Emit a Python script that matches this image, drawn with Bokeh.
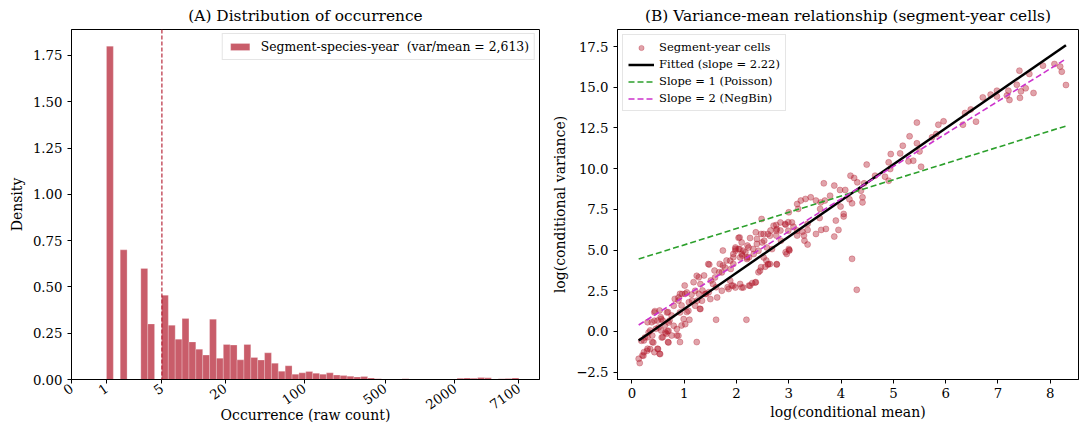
import numpy as np
from bokeh.plotting import figure
from bokeh.layouts import row
from bokeh.models import FixedTicker, CustomJSTickFormatter, Span
from bokeh.embed import file_html
from bokeh.resources import INLINE

FONT = "DejaVu Serif"

# ---------------- Panel A data ----------------
count_min = 1
count_max = 7100
n_bins = 60
density = [1.80, 0, 0.70, 0, 0, 0.60, 0.30, 0, 0.455, 0.293,
           0.218, 0.329, 0.203, 0.164, 0.132, 0.326, 0.115, 0.189, 0.186, 0.106,
           0.189, 0.119, 0.105, 0.144, 0.088, 0.045, 0.074, 0.029, 0.036, 0.043,
           0.034, 0.029, 0.036, 0.024, 0.021, 0.018, 0.014, 0.016, 0.008, 0.004,
           0.003, 0.002, 0.003, 0.004, 0.003, 0.002, 0.002, 0.001, 0.002, 0.002,
           0.003, 0.007, 0.008, 0.007, 0.011, 0.009, 0.003, 0.004, 0.005, 0.008]
threshold = 5
tick_counts = [0, 1, 5, 20, 100, 500, 2000, 7100]
density_ticks = [0.0, 0.25, 0.5, 0.75, 1.0, 1.25, 1.5, 1.75]
legend_a = "Segment-species-year  (var/mean = 2,613)"

# ---------------- Panel B data ----------------
log_mean = [
    4.44, 4.18, 4.25, 4.31, 4.38, 4.41, 4.41, 4.21, 4.16, 4.08, 3.98, 3.87, 3.67, 3.79, 3.69, 3.61, 3.52, 3.42, 3.32, 3.23,
    3.16, 3.18, 3.00, 3.60, 3.99, 4.05, 4.05, 3.95, 3.90, 3.87, 3.59, 3.71, 3.62, 3.52, 3.36, 3.36, 3.26, 3.29, 3.30, 3.36,
    3.16, 3.16, 3.09, 2.99, 2.94, 2.84, 2.76, 2.76, 3.00, 2.94, 3.01, 2.85, 2.76, 4.21, 4.30, 2.77, 2.60, 2.57, 2.47, 2.42,
    2.37, 2.30, 2.24, 2.19, 2.47, 2.48, 2.53, 2.60, 2.65, 2.37, 2.39, 2.32, 2.21, 2.17, 2.24, 2.11, 2.04, 2.06, 1.98, 1.94,
    1.94, 1.89, 1.81, 1.74, 1.74, 1.68, 1.67, 1.58, 1.48, 1.51, 1.47, 1.61, 1.55, 1.61, 1.83, 1.91, 2.07, 1.38, 1.28, 1.18,
    1.35, 1.42, 1.28, 1.25, 1.30, 1.24, 1.09, 1.14, 1.01, 1.02, 0.92, 0.89, 0.82, 0.95, 1.05, 1.10, 0.95, 0.92, 0.86, 0.76,
    0.69, 0.72, 0.59, 0.63, 0.68, 0.56, 0.49, 0.55, 0.53, 0.44, 0.38, 0.46, 0.39, 0.30, 0.35, 0.30, 0.23, 0.39, 0.49, 0.53,
    0.43, 0.30, 0.23, 0.20, 0.13, 0.15, 0.69, 0.76, 0.59, 0.66,
    7.41, 7.86, 8.08, 8.19, 8.22, 8.30, 7.60, 7.36, 7.20, 7.17, 7.22, 7.42, 7.44, 7.53, 7.68, 6.98, 6.98, 6.86, 6.71, 6.58,
    6.48, 6.37, 6.33, 5.96, 5.86, 5.82, 5.74, 5.45, 5.31, 5.18, 5.45, 5.50, 5.13, 4.95, 4.91, 5.29, 5.38, 5.53, 4.49, 4.65,
    4.84, 4.91, 4.94,
    2.71, 2.77, 2.84, 2.93, 3.06, 2.99, 2.64, 2.52, 2.49, 2.39, 2.26, 2.23, 2.13, 2.04, 1.98, 1.94, 2.07, 2.20, 2.33, 2.42,
    2.58, 2.68, 2.52, 2.61, 2.55, 2.64, 3.01, 2.96, 2.06, 2.10, 1.88, 1.94, 2.13, 2.26, 2.36, 2.45, 2.77,
    0.22, 0.29, 0.35, 0.50, 0.54, 0.41, 0.57, 0.64, 0.70, 0.51, 0.43, 0.56, 0.70, 0.80, 0.86, 0.89, 0.70, 0.67, 0.43, 0.80,
    0.92, 0.99, 1.02, 1.08, 1.21, 1.15, 0.96, 0.89, 1.05, 1.21, 1.31, 1.40, 1.50, 1.31, 1.34, 1.63, 1.72, 1.85, 1.24, 1.46,
    1.59, 1.72, 1.78, 1.88, 1.98, 2.10, 1.98, 2.10, 2.20, 0.32, 0.25, 0.18,
]
log_var = [
    9.10, 9.57, 9.43, 9.16, 8.65, 8.24, 7.93, 7.87, 8.12, 8.69, 8.69, 8.96, 9.10, 8.34, 8.04, 7.93, 8.04, 8.24, 8.14, 8.04,
    7.83, 7.53, 7.32, 7.53, 7.67, 7.22, 7.06, 6.24, 6.81, 5.83, 6.97, 6.30, 6.24, 5.99, 6.24, 6.61, 6.13, 5.89, 5.58, 5.34,
    5.89, 6.20, 6.44, 6.71, 6.56, 6.20, 6.54, 6.20, 5.07, 4.87, 4.97, 5.58, 5.89, 4.46, 2.56, 4.11, 4.11, 4.36, 3.95, 3.64,
    3.03, 2.97, 2.82, 0.72, 5.99, 6.91, 5.58, 5.99, 6.20, 6.09, 5.38, 5.07, 5.28, 4.87, 4.56, 4.66, 5.75, 5.07, 5.07, 4.56,
    4.15, 3.84, 4.36, 4.97, 4.05, 4.15, 3.64, 3.74, 4.11, 3.13, 2.41, 2.72, 2.92, 0.72, 2.72, 2.82, 2.92, 3.44, 3.33, 3.03,
    2.52, 2.31, 2.31, 1.90, 1.39, -0.65, 1.80, 2.27, 2.82, 2.31, 2.31, 1.90, 2.00, 1.60, 1.19, 0.72, 0.37, -0.65, -0.25, 0.98,
    1.19, 0.67, 0.67, 0.37, 0.02, 0.06, 0.67, 0.88, 1.29, 1.25, 0.57, 0.16, -0.25, 0.57, 0.06, -0.35, -0.55, -0.65, -1.06, -1.37,
    -1.27, -1.06, -1.27, -1.47, -1.68, -1.94, -0.65, -0.25, -0.35, -0.14,
    16.02, 16.33, 16.43, 16.27, 15.96, 15.14, 15.82, 15.16, 14.79, 14.49, 14.22, 14.35, 14.75, 14.94, 14.65, 14.79, 14.43, 14.55, 14.38, 12.89,
    13.64, 13.42, 12.70, 12.91, 12.70, 12.13, 11.93, 12.83, 11.99, 11.41, 11.56, 11.06, 10.94, 10.90, 10.39, 10.45, 10.49, 10.12, 10.25, 9.57,
    9.51, 9.26, 9.98,
    6.50, 6.29, 6.70, 6.60, 6.70, 6.19, 5.88, 5.99, 5.47, 5.68, 5.74, 5.16, 4.96, 5.06, 5.16, 4.76, 4.55, 4.55, 4.76, 4.96,
    5.16, 5.06, 4.55, 4.14, 3.98, 4.14, 5.00, 4.76, 5.78, 5.47, 4.35, 2.81, 2.70, 2.81, 3.01, 3.73, 4.14,
    -1.49, -1.19, -1.08, -1.08, -1.39, -0.68, -0.37, -0.06, 0.04, 0.25, 0.66, 0.76, 0.55, 0.35, 0.15, -0.26, -0.68, 1.17, 1.17, 1.58,
    1.17, 0.76, 0.45, 1.27, 1.58, 1.89, 2.30, 2.09, 2.40, 2.50, 2.91, 2.30, 1.99, 1.38, 1.89, 2.09, 2.50, 2.61, 3.42, 4.14,
    3.32, 3.63, 3.93, 3.12, 2.70, 2.70, 4.96, 4.76, 4.45, -0.06, -0.37, -0.57,
]
fit_slope, fit_intercept = 2.22, -0.84
pois_slope, pois_intercept = 1.0, 4.32
nb_slope, nb_intercept = 2.0, 0.14
legend_b = ["Segment-year cells", "Fitted (slope = 2.22)", "Slope = 1 (Poisson)", "Slope = 2 (NegBin)"]
var_ticks = [-2.5, 0.0, 2.5, 5.0, 7.5, 10.0, 12.5, 15.0, 17.5]
mean_ticks = [0, 1, 2, 3, 4, 5, 6, 7, 8]

RED = "#b2182b"


def style(p):
    p.title.text_font = FONT
    p.title.text_font_size = "15.4px"
    p.title.text_font_style = "normal"
    p.title.text_color = "black"
    p.title.align = "center"
    p.title.standoff = 9
    p.outline_line_color = "black"
    p.outline_line_width = 1
    p.xgrid.visible = False
    p.ygrid.visible = False
    p.background_fill_color = "white"
    for ax in (p.xaxis, p.yaxis):
        ax.axis_line_color = "black"
        ax.major_tick_line_color = "black"
        ax.major_tick_out = 4
        ax.major_tick_in = 0
        ax.minor_tick_line_color = None
        ax.major_label_text_font = FONT
        ax.major_label_text_font_size = "13.3px"
        ax.major_label_text_color = "black"
        ax.axis_label_text_font = FONT
        ax.axis_label_text_font_size = "14px"
        ax.axis_label_text_font_style = "normal"
        ax.axis_label_text_color = "black"


# ---------------- Panel A ----------------
edges = np.linspace(np.log1p(count_min), np.log1p(count_max), n_bins + 1)
dens = np.array(density)
mask = dens > 0
span_lo, span_hi = edges[0], edges[-1]
xa_hi = span_hi + 0.05 * (span_hi - span_lo)

p1 = figure(frame_width=468, frame_height=350, x_range=(0, xa_hi), y_range=(0, dens.max() * 1.05),
            output_backend="svg", toolbar_location=None,
            min_border_left=71, min_border_right=6, min_border_top=29, min_border_bottom=58,
            title="(A) Distribution of occurrence")
style(p1)
p1.quad(left=edges[:-1][mask], right=edges[1:][mask], bottom=0, top=dens[mask],
        fill_color=RED, fill_alpha=0.7, line_color="white", line_width=0.5, line_alpha=0.5,
        legend_label=legend_a)
p1.add_layout(Span(location=float(np.log1p(threshold)), dimension="height", line_color=RED,
                   line_alpha=0.85, line_width=1.3, line_dash="4 2"))
p1.xaxis.ticker = FixedTicker(ticks=[float(np.log1p(t)) for t in tick_counts])
p1.xaxis.formatter = CustomJSTickFormatter(code="return String(Math.round(Math.expm1(tick)));")
p1.xaxis.major_label_orientation = 0.61
p1.xaxis.major_label_standoff = 3
p1.xaxis.axis_label_standoff = -10
p1.xaxis.axis_label = "Occurrence (raw count)"
p1.yaxis.ticker = FixedTicker(ticks=density_ticks)
p1.yaxis.formatter = CustomJSTickFormatter(code="return tick.toFixed(2);")
p1.yaxis.axis_label = "Density"
lg = p1.legend[0]
lg.location = "top_right"
lg.label_text_font = FONT
lg.label_text_font_size = "12.4px"
lg.label_text_color = "black"
lg.glyph_width = 24
lg.glyph_height = 9
lg.label_height = 14
lg.label_standoff = 9
lg.padding = 5
lg.margin = 4
lg.border_line_color = "#cccccc"
lg.background_fill_alpha = 0.85

# ---------------- Panel B ----------------
xs = np.array(log_mean)
ys = np.array(log_var)
xline = np.array([xs.min(), xs.max()])

p2 = figure(frame_width=461, frame_height=350, x_range=(-0.275, 8.54), y_range=(-2.95, 18.55),
            output_backend="svg", toolbar_location=None,
            min_border_left=72, min_border_right=2, min_border_top=29, min_border_bottom=58,
            title="(B) Variance-mean relationship (segment-year cells)")
style(p2)
p2.scatter(xs, ys, size=6, fill_color=RED, fill_alpha=0.4, line_color=RED, line_alpha=0.3,
           legend_label=legend_b[0])
p2.line(xline, fit_intercept + fit_slope * xline, line_color="black", line_width=2.5, legend_label=legend_b[1])
p2.line(xline, pois_intercept + pois_slope * xline, line_color="#2ca02c", line_width=1.6,
        line_dash="6 3", legend_label=legend_b[2])
p2.line(xline, nb_intercept + nb_slope * xline, line_color="#cc33cc", line_width=1.6,
        line_dash="6 3", legend_label=legend_b[3])
p2.xaxis.ticker = FixedTicker(ticks=mean_ticks)
p2.xaxis.major_label_standoff = 4
p2.xaxis.axis_label_standoff = 3
p2.xaxis.axis_label = "log(conditional mean)"
p2.yaxis.ticker = FixedTicker(ticks=var_ticks)
p2.yaxis.formatter = CustomJSTickFormatter(
    code="return (tick < 0 ? '\\u2212' : '') + Math.abs(tick).toFixed(1);")
p2.yaxis.axis_label = "log(conditional variance)"
lg2 = p2.legend[0]
lg2.location = "top_left"
lg2.label_text_font = FONT
lg2.label_text_font_size = "11.5px"
lg2.label_text_color = "black"
lg2.glyph_width = 26
lg2.glyph_height = 13
lg2.label_height = 13
lg2.spacing = 3
lg2.padding = 5
lg2.margin = 5
lg2.border_line_color = "#cccccc"
lg2.background_fill_alpha = 0.85

layout = row(p1, p2)
open("out.html", "w").write(file_html(layout, INLINE))
